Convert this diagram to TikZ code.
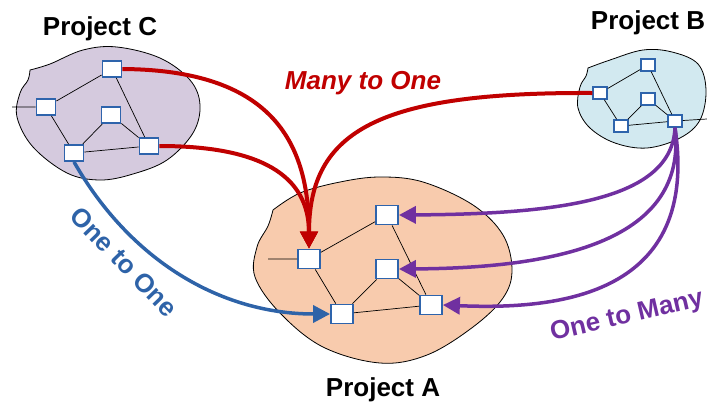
\documentclass[tikz,border=0pt]{standalone}
\usepackage{fontspec}
\setmainfont{Liberation Sans}
\usetikzlibrary{arrows.meta}
\definecolor{nodeblue}{RGB}{46,100,172}
\definecolor{arrred}{RGB}{192,0,0}
\definecolor{arrpurple}{RGB}{112,48,160}
\definecolor{arrblue}{RGB}{46,99,168}
\definecolor{fillA}{RGB}{248,203,173}
\definecolor{fillB}{RGB}{210,233,240}
\definecolor{fillC}{RGB}{213,202,222}

\begin{document}
\begin{tikzpicture}[x=1pt,y=-1pt,
  cloud/.style={draw=black, line width=0.8pt},
  box/.style={draw=nodeblue, fill=white, line width=1.8pt, rectangle, inner sep=0pt},
  bigbox/.style={box, minimum width=22pt, minimum height=19pt},
  midbox/.style={box, minimum width=19pt, minimum height=16pt},
  smallbox/.style={box, minimum width=14pt, minimum height=12pt, line width=1.5pt},
  link/.style={draw=black, line width=0.7pt},
  flow/.style={line width=3.5pt, -{Triangle[length=17pt,width=17pt]}},
  lbl/.style={font=\fontsize{26}{30}\selectfont\bfseries, inner sep=0pt},
]
\useasboundingbox (0,0) rectangle (707,408);

% project clouds
\filldraw[cloud, fill=fillC] plot[smooth, tension=0.6] coordinates {
  (30,70) (50,64) (83,50) (117,47) (160,58) (190,80) (200,105) (193,133)
  (167,160) (133,174) (100,180) (67,173) (33,147) (17,117) (20,93) (28,80) (30,70)} -- cycle;
\filldraw[cloud, fill=fillB] plot[smooth, tension=0.6] coordinates {
  (588,68) (610,60) (643,50) (672,52) (698,64) (706,90) (700,120) (680,138)
  (647,148) (615,143) (590,128) (578,108) (580,87) (586,76) (588,68)} -- cycle;
\filldraw[cloud, fill=fillA] plot[smooth, tension=0.6] coordinates {
  (273,210) (300,193) (340,182) (380,177) (423,182) (473,205) (503,235) (512,270)
  (503,298) (473,327) (427,355) (380,363) (323,347) (280,313) (255,277) (257,247)
  (268,226) (273,210)} -- cycle;

% project C
\node[midbox] (c1) at (112,69) {};
\node[midbox] (c2) at (46,107) {};
\node[midbox] (c3) at (111,115) {};
\node[midbox] (c4) at (74,153) {};
\node[midbox] (c5) at (149,146) {};
\coordinate (cin) at (12,107);

% project B
\node[smallbox] (b1) at (600,93) {};
\node[smallbox] (b2) at (648,65) {};
\node[smallbox] (b3) at (648,99) {};
\node[smallbox] (b4) at (621,126) {};
\node[smallbox] (b5) at (675,121) {};
\coordinate (bout) at (707,119);

% project A
\node[bigbox] (a1) at (309,259) {};
\node[bigbox] (a2) at (387,215) {};
\node[bigbox] (a3) at (387,269) {};
\node[bigbox] (a4) at (342,314) {};
\node[bigbox] (a5) at (431,305) {};
\coordinate (ain) at (268,259);

% internal links
\draw[link] (cin) -- (c2) (c2) -- (c1) (c2) -- (c4) (c4) -- (c3)
  (c4) -- (c5) (c1) -- (c5) (c3) -- (c5);
\draw[link] (b1) -- (b2) (b1) -- (b4) (b4) -- (b3) (b4) -- (b5)
  (b2) -- (b5) (b3) -- (b5) (b5) -- (bout);
\draw[link] (ain) -- (a1) (a1) -- (a2) (a1) -- (a4) (a4) -- (a3)
  (a4) -- (a5) (a2) -- (a5) (a3) -- (a5);

% many to one
\draw[flow, arrred, line width=4pt] (c1.east) .. controls (270,70) and (309,140) .. (a1.north);
\draw[flow, arrred, line width=4pt] (c5.east) .. controls (260,146) and (309,175) .. (a1.north);
\draw[flow, arrred, line width=4pt] (b1.west) .. controls (380,92) and (309,130) .. (a1.north);

% one to one
\draw[flow, arrblue] (c4.south) .. controls (130,260) and (220,314) .. (a4.west);

% one to many
\draw[flow, arrpurple] (b5.south) .. controls (672,200) and (560,214) .. (a2.east);
\draw[flow, arrpurple] (b5.south) .. controls (688,240) and (560,268) .. (a3.east);
\draw[flow, arrpurple] (b5.south) .. controls (700,295) and (560,310) .. (a5.east);

% labels
\node[lbl, anchor=base] (tc) at (100,35) {Project C};
\node[lbl, anchor=base] (tb) at (648,29) {Project B};
\node[lbl, anchor=base] (ta) at (383,396) {Project A};
\node[lbl, text=arrred, font=\fontsize{26}{30}\selectfont\bfseries\itshape, anchor=base] (tm) at (363,89) {Many to One};
\node[lbl, text=arrblue, rotate=-46] (to) at (124,262) {One to One};
\node[lbl, text=arrpurple, rotate=13] (tmany) at (627,317) {One to Many};
\end{tikzpicture}
\end{document}
